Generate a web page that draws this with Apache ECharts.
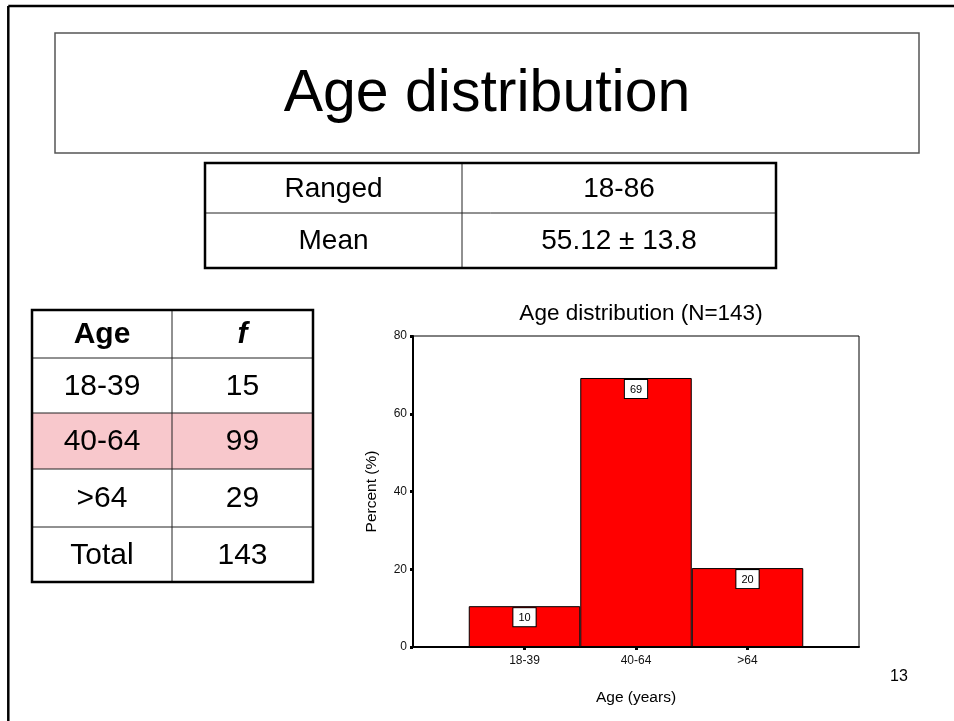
<!DOCTYPE html>
<html>
<head>
<meta charset="utf-8">
<script src="https://cdn.jsdelivr.net/npm/echarts@6/dist/echarts.min.js"></script>
<style>
html,body{margin:0;padding:0;background:#fff;}
#main{width:954px;height:721px;}
</style>
</head>
<body>
<div id="main"></div>
<script>
// ---- data ----
const slideTitle = 'Age distribution';
const chartTitle = 'Age distribution (N=143)';
const categories = ['18-39', '40-64', '>64'];
const percents = [10.5, 69.2, 20.3];
const barLabels = ['10', '69', '20'];
const yMin = 0, yMax = 80, yInterval = 20;
const xAxisName = 'Age (years)';
const yAxisName = 'Percent (%)';
const summaryRows = [['Ranged', '18-86'], ['Mean', '55.12 \u00b1 13.8']];
const freqHeader = ['Age', 'f'];
const freqRows = [['18-39', '15'], ['40-64', '99'], ['>64', '29'], ['Total', '143']];
const highlightRow = 1;
const slideNumber = '13';

const FONT = '"Liberation Sans", Arial, Helvetica, sans-serif';
const chart = echarts.init(document.getElementById('main'), null, {renderer: 'canvas'});

// ---- slide graphics ----
const g = [];
function txt(x, y, text, size, opts) {
  opts = opts || {};
  g.push({type: 'text', z: 10, style: {
    text: text, x: x, y: y,
    font: (opts.style || '') + ' ' + (opts.weight || 'normal') + ' ' + size + 'px ' + FONT,
    fill: opts.color || '#000', textAlign: 'center', textVerticalAlign: 'middle',
    align: 'center', verticalAlign: 'middle'
  }});
}
function line(x1, y1, x2, y2, w, c, z) {
  g.push({type: 'line', z: z || 5, shape: {x1: x1, y1: y1, x2: x2, y2: y2}, style: {stroke: c, lineWidth: w}});
}
// outer frame
line(8.3, 6, 954, 6, 2.5, '#000');
line(8.3, 6, 8.3, 721, 2.5, '#000');
// title box
g.push({type: 'rect', z: 5, shape: {x: 55, y: 33, width: 864, height: 120}, style: {fill: '#fff', stroke: '#555', lineWidth: 1.5}});
txt(487, 95, slideTitle, 59);

// summary table
(function () {
  const xs = [205, 462, 776], ys = [163, 213, 268];
  summaryRows.forEach(function (r, i) {
    txt((xs[0] + xs[1]) / 2, (ys[i] + ys[i + 1]) / 2 + 1, r[0], 28);
    txt((xs[1] + xs[2]) / 2, (ys[i] + ys[i + 1]) / 2 + 1, r[1], 28);
  });
  line(xs[0], ys[1], xs[2], ys[1], 1, '#222');
  line(xs[1], ys[0], xs[1], ys[2], 1, '#222');
  g.push({type: 'rect', z: 6, shape: {x: xs[0], y: ys[0], width: xs[2] - xs[0], height: ys[2] - ys[0]}, style: {fill: 'none', stroke: '#000', lineWidth: 2.5}});
})();

// frequency table
(function () {
  const xs = [32, 172, 313], ys = [310, 358, 413, 469, 527, 582];
  const rows = [freqHeader].concat(freqRows);
  g.push({type: 'rect', z: 4, shape: {x: xs[0], y: ys[highlightRow + 1], width: xs[2] - xs[0], height: ys[highlightRow + 2] - ys[highlightRow + 1]}, style: {fill: '#f8c8cc'}});
  rows.forEach(function (r, i) {
    const cy = (ys[i] + ys[i + 1]) / 2 + 1;
    if (i === 0) {
      txt((xs[0] + xs[1]) / 2, cy, r[0], 30, {weight: 'bold'});
      txt((xs[1] + xs[2]) / 2, cy, r[1], 30, {weight: 'bold', style: 'italic'});
    } else {
      txt((xs[0] + xs[1]) / 2, cy, r[0], 30);
      txt((xs[1] + xs[2]) / 2, cy, r[1], 30);
    }
  });
  for (let i = 1; i < ys.length - 1; i++) line(xs[0], ys[i], xs[2], ys[i], 1, '#222');
  line(xs[1], ys[0], xs[1], ys[ys.length - 1], 1, '#222');
  g.push({type: 'rect', z: 6, shape: {x: xs[0], y: ys[0], width: xs[2] - xs[0], height: ys[ys.length - 1] - ys[0]}, style: {fill: 'none', stroke: '#000', lineWidth: 2.5}});
})();

txt(899, 677, slideNumber, 16);

// ---- chart ----
const axisCats = [''].concat(categories, ['']);
const seriesData = ['-'].concat(percents, ['-']);
const labelTexts = [''].concat(barLabels, ['']);

chart.setOption({
  animation: false,
  textStyle: {fontFamily: FONT},
  title: {
    text: chartTitle, left: 636, top: 297, textAlign: 'center',
    textStyle: {fontSize: 22.5, fontWeight: 'normal', color: '#000', fontFamily: FONT}
  },
  grid: {left: 413, right: 95, top: 336, bottom: 74, show: true, borderColor: '#000', borderWidth: 1, backgroundColor: 'transparent'},
  xAxis: {
    type: 'category', data: axisCats, boundaryGap: false,
    name: xAxisName, nameLocation: 'middle', nameGap: 43,
    nameTextStyle: {fontSize: 15.5, color: '#000', fontFamily: FONT},
    axisLine: {lineStyle: {color: '#000', width: 2}},
    axisTick: {show: true, length: 3, lineStyle: {color: '#000', width: 3},
      interval: function (i) { return i > 0 && i < axisCats.length - 1; }},
    axisLabel: {fontSize: 12, color: '#111', margin: 8, interval: 0, fontFamily: FONT},
    splitLine: {show: false}
  },
  yAxis: {
    type: 'value', min: yMin, max: yMax, interval: yInterval,
    name: yAxisName, nameLocation: 'middle', nameGap: 33, nameRotate: 90,
    nameTextStyle: {fontSize: 15.5, color: '#000', fontFamily: FONT},
    axisLine: {show: true, lineStyle: {color: '#000', width: 2}},
    axisTick: {show: true, length: 3, lineStyle: {color: '#000', width: 3}},
    axisLabel: {fontSize: 12, color: '#111', margin: 6, fontFamily: FONT},
    splitLine: {show: false}
  },
  series: [{
    type: 'bar', data: seriesData, barWidth: '100%',
    itemStyle: {color: '#ff0000', borderColor: '#000', borderWidth: 1},
    label: {
      show: true, position: 'insideTop', distance: 2,
      formatter: function (p) { return labelTexts[p.dataIndex]; },
      backgroundColor: '#fff', borderColor: '#000', borderWidth: 1,
      padding: [4, 5, 3, 5], fontSize: 11, color: '#000', fontFamily: FONT
    }
  }],
  graphic: g
});
</script>
</body>
</html>
